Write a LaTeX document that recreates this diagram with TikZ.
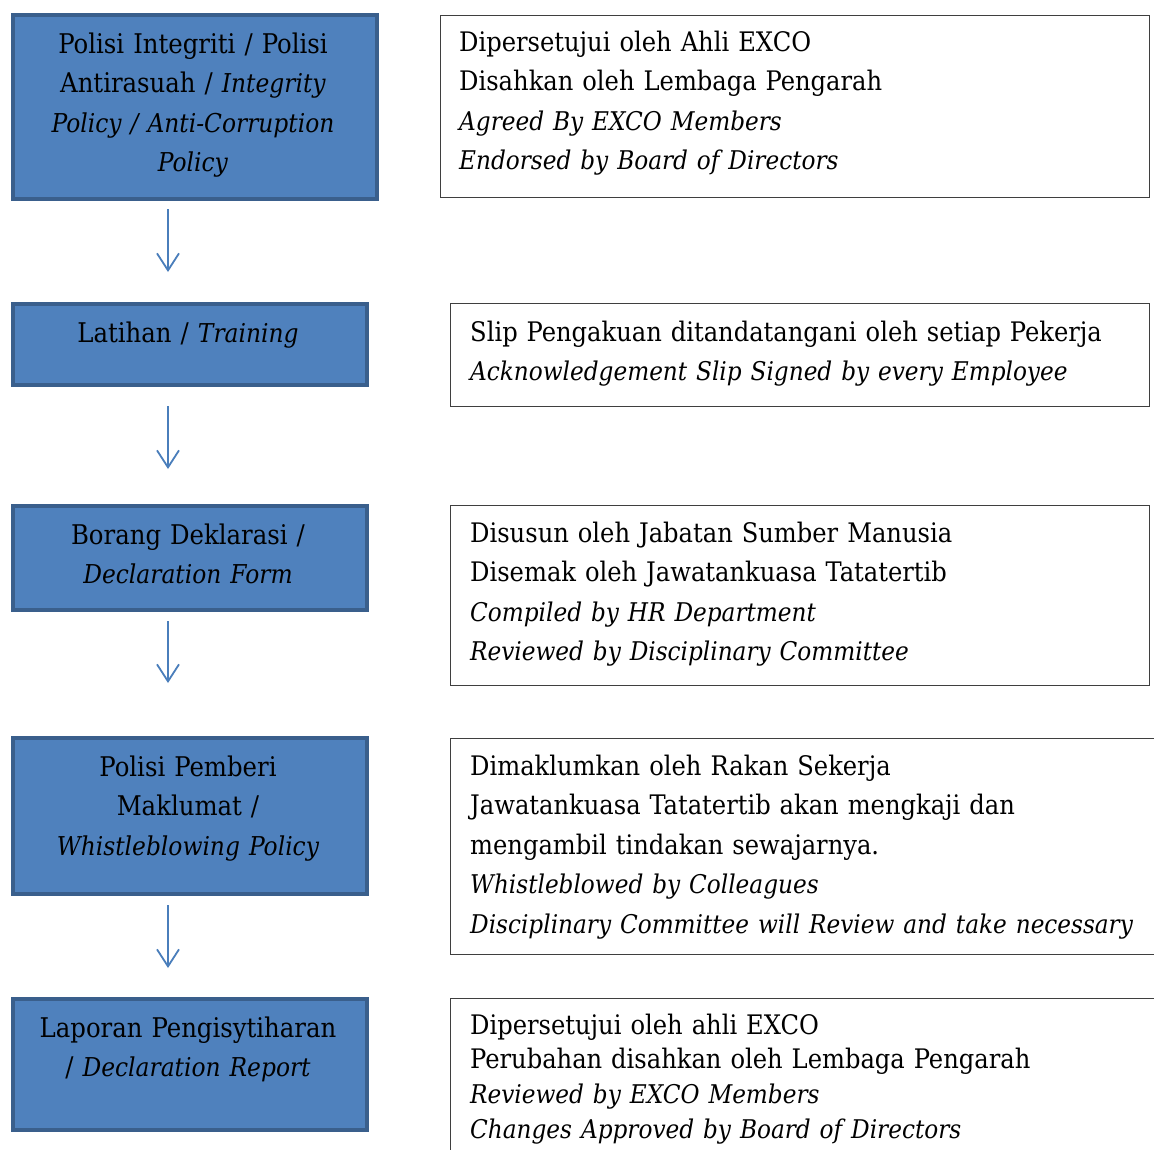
\documentclass[tikz,border=0pt]{standalone}
\usepackage{fontspec}
\setmainfont{DejaVu Serif Condensed}[ItalicFeatures={Scale=0.958}]
\usetikzlibrary{arrows.meta}
\definecolor{boxfill}{HTML}{4F81BD}
\definecolor{boxedge}{HTML}{3A5F8C}
\definecolor{arrowc}{HTML}{4A7EBB}
\definecolor{lineg}{HTML}{3F3F3F}
\begin{document}
\begin{tikzpicture}[x=1pt,y=-1pt,
  bluebox/.style={draw=boxedge, line width=4pt, fill=boxfill, inner sep=0pt, anchor=north west, minimum width=354pt},
  whitebox/.style={draw=lineg, line width=1.4pt, fill=white, inner sep=0pt, anchor=north west},
  btext/.style={inner sep=0pt, anchor=base, align=center, text width=350pt, font=\fontsize{27.1}{39.6}\selectfont},
  wtext/.style={inner sep=0pt, anchor=base west, align=left, text width=700pt, font=\fontsize{26.9}{39.6}\selectfont},
  flow/.style={draw=arrowc, line width=1.8pt, -{Straight Barb[length=17pt,width=22pt,line width=1.8pt]}}]
\useasboundingbox (0,0) rectangle (1154,1149);
\clip (0,0) rectangle (1154,1149);
% blue boxes
\node[bluebox, minimum width=364pt, minimum height=184pt] (b1) at (11,13) {};
\node[bluebox, minimum height=81pt] (b2) at (11,302) {};
\node[bluebox, minimum height=104pt] (b3) at (11,504) {};
\node[bluebox, minimum height=156pt] (b4) at (11,736) {};
\node[bluebox, minimum height=131pt] (b5) at (11,997) {};
% white boxes
\node[whitebox, minimum width=709pt, minimum height=182pt] (w1) at (440,15) {};
\node[whitebox, minimum width=699pt, minimum height=103pt] (w2) at (450,303) {};
\node[whitebox, minimum width=699pt, minimum height=180pt] (w3) at (450,505) {};
\node[whitebox, minimum width=740pt, minimum height=216pt] (w4) at (450,738) {};
\node[whitebox, minimum width=740pt, minimum height=220pt] (w5) at (450,998) {};
% blue box texts
\node[btext, text width=360pt] (t1) at (193,53) {Polisi Integriti / Polisi\\ Antirasuah / \textit{Integrity}\\ \textit{Policy / Anti-Corruption}\\ \textit{Policy}};
\node[btext] (t2) at (188,342) {Latihan / \textit{Training}};
\node[btext] (t3) at (188,544) {Borang Deklarasi /\\ \textit{Declaration Form}};
\node[btext] (t4) at (188,776) {Polisi Pemberi\\ Maklumat /\\ \textit{Whistleblowing Policy}};
\node[btext] (t5) at (188,1037) {Laporan Pengisytiharan\\ / \textit{Declaration Report}};
% white box texts
\node[wtext] (u1) at (459,51) {Dipersetujui oleh Ahli EXCO\\ Disahkan oleh Lembaga Pengarah\\ \textit{Agreed By EXCO Members}\\ \textit{Endorsed by Board of Directors}};
\node[wtext] (u2) at (470,341) {Slip Pengakuan ditandatangani oleh setiap Pekerja\\ \textit{Acknowledgement Slip Signed by every Employee}};
\node[wtext] (u3) at (470,542) {Disusun oleh Jabatan Sumber Manusia\\ Disemak oleh Jawatankuasa Tatatertib\\ \textit{Compiled by HR Department}\\ \textit{Reviewed by Disciplinary Committee}};
\node[wtext] (u4) at (470,775) {Dimaklumkan oleh Rakan Sekerja\\ Jawatankuasa Tatatertib akan mengkaji dan\\ mengambil tindakan sewajarnya.\\ \textit{Whistleblowed by Colleagues}\\ \textit{Disciplinary Committee will Review and take necessary}};
\node[wtext, font=\fontsize{26.9}{34.7}\selectfont] (u5) at (470,1034) {Dipersetujui oleh ahli EXCO\\ Perubahan disahkan oleh Lembaga Pengarah\\ \textit{Reviewed by EXCO Members}\\ \textit{Changes Approved by Board of Directors}};
% arrows
\coordinate (ax) at (168,0);
\draw[flow, shorten <=8pt, shorten >=30pt] (b1.south -| ax) -- (b2.north -| ax);
\draw[flow, shorten <=19pt, shorten >=35pt] (b2.south -| ax) -- (b3.north -| ax);
\draw[flow, shorten <=9pt, shorten >=53pt] (b3.south -| ax) -- (b4.north -| ax);
\draw[flow, shorten <=9pt, shorten >=29pt] (b4.south -| ax) -- (b5.north -| ax);
\end{tikzpicture}
\end{document}
